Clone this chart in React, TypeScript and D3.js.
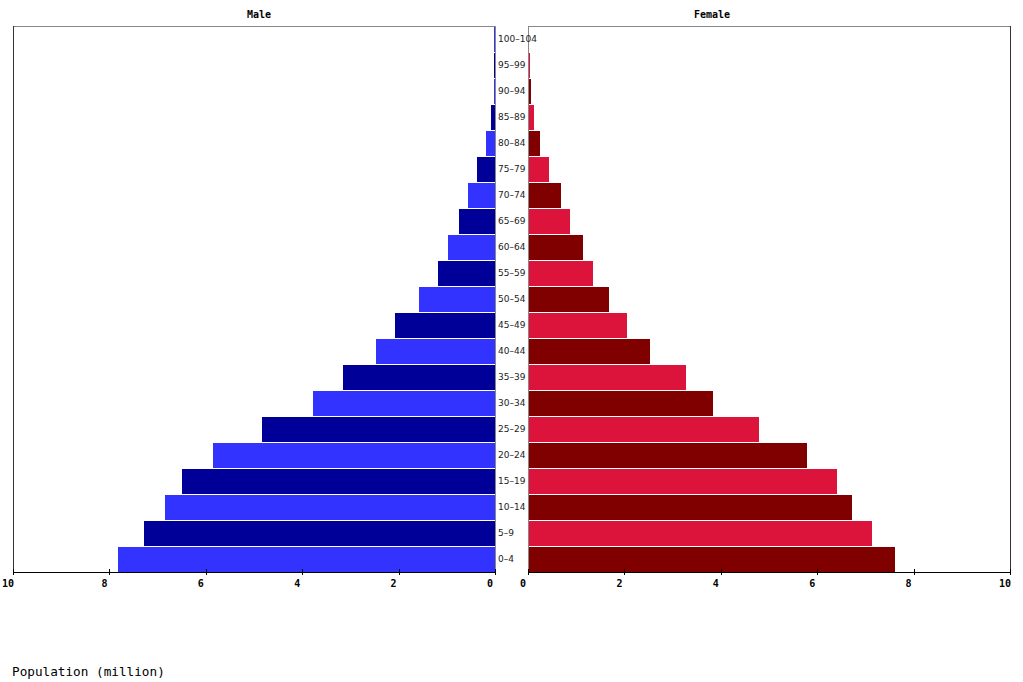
import * as d3 from "d3";

const ageGroups = [
  "0-4", "5-9", "10-14", "15-19", "20-24", "25-29", "30-34", "35-39",
  "40-44", "45-49", "50-54", "55-59", "60-64", "65-69", "70-74", "75-79",
  "80-84", "85-89", "90-94", "95-99", "100-104",
];

// population in millions
const maleValues = [
  7.82, 7.28, 6.85, 6.49, 5.85, 4.83, 3.78, 3.15, 2.47, 2.07, 1.58,
  1.18, 0.98, 0.75, 0.56, 0.37, 0.19, 0.08, 0.03, 0.02, 0.015,
];
const femaleValues = [
  7.59, 7.12, 6.7, 6.39, 5.77, 4.77, 3.82, 3.26, 2.51, 2.03, 1.66,
  1.33, 1.12, 0.85, 0.66, 0.41, 0.23, 0.1, 0.04, 0.02, 0.01,
];
const xTicks = [0, 2, 4, 6, 8, 10];

const COLORS = {
  maleLight: "#3333ff",
  maleDark: "#000099",
  femaleLight: "#dc143c",
  femaleDark: "#800000",
};

const W = 1023;
const H = 682;
const top = 26;
const bottom = 572;
const maleLeft = 13;
const maleRight = 495;
const femaleLeft = 528;
const femaleRight = 1010;

const monoFont = "'DejaVu Sans Mono', 'Liberation Mono', monospace";

export default function App() {
  const xMale = d3.scaleLinear().domain([0, 10]).range([maleRight, maleLeft]);
  const xFemale = d3.scaleLinear().domain([0, 10]).range([femaleLeft, femaleRight]);
  const y = d3
    .scaleBand<string>()
    .domain([...ageGroups].reverse())
    .range([top, bottom])
    .paddingInner(0);
  const bh = y.bandwidth();

  const axis = (
    scale: d3.ScaleLinear<number, number>,
    x0: number,
    x1: number,
    key: string
  ) => (
    <g key={key}>
      <line x1={x0} x2={x1} y1={bottom} y2={bottom} stroke="#000" />
      {xTicks.map((t) => (
        <g key={t}>
          <line
            x1={Math.round(scale(t)) + 0.5}
            x2={Math.round(scale(t)) + 0.5}
            y1={bottom - 3}
            y2={bottom + 3}
            stroke="#000"
          />
          <text
            x={scale(t) - 5}
            y={bottom + 15}
            textAnchor="middle"
            fontFamily={monoFont}
            fontWeight="bold"
            fontSize={10}
            fill="#000"
          >
            {t}
          </text>
        </g>
      ))}
    </g>
  );

  return (
    <svg
      width={W}
      height={H}
      style={{ position: "absolute", left: 0, top: 0, background: "#fff" }}
      shapeRendering="crispEdges"
    >
      {/* panel frames */}
      <rect
        x={maleLeft + 0.5}
        y={top + 0.5}
        width={maleRight - maleLeft}
        height={bottom - top}
        fill="none"
        stroke="#888"
      />
      <rect
        x={femaleLeft + 0.5}
        y={top + 0.5}
        width={femaleRight - femaleLeft}
        height={bottom - top}
        fill="none"
        stroke="#888"
      />
      <line x1={maleLeft + 0.5} x2={maleLeft + 0.5} y1={top} y2={bottom} stroke="#333" />
      <line x1={femaleRight + 0.5} x2={femaleRight + 0.5} y1={top} y2={bottom} stroke="#333" />

      {/* male bars */}
      {ageGroups.map((g, i) => (
        <rect
          key={"m" + g}
          x={xMale(maleValues[i])}
          y={(y(g) ?? 0) + 1}
          width={maleRight - xMale(maleValues[i])}
          height={bh - 1}
          fill={i % 2 === 0 ? COLORS.maleLight : COLORS.maleDark}
        />
      ))}
      {/* female bars */}
      {ageGroups.map((g, i) => (
        <rect
          key={"f" + g}
          x={femaleLeft + 1}
          y={(y(g) ?? 0) + 1}
          width={xFemale(femaleValues[i]) - femaleLeft}
          height={bh - 1}
          fill={i % 2 === 0 ? COLORS.femaleDark : COLORS.femaleLight}
        />
      ))}

      {/* age labels */}
      {ageGroups.map((g) => (
        <text
          key={"l" + g}
          x={498}
          y={(y(g) ?? 0) + bh / 2 + 3}
          fontFamily="'DejaVu Sans', sans-serif"
          fontSize={9}
          fill="#222"
        >
          {g.replace("-", "\u2013")}
        </text>
      ))}

      {axis(xMale, maleLeft, maleRight + 1, "am")}
      {axis(xFemale, femaleLeft, femaleRight + 1, "af")}

      <text
        x={259}
        y={18}
        textAnchor="middle"
        fontFamily={monoFont}
        fontWeight="bold"
        fontSize={10}
      >
        Male
      </text>
      <text
        x={712}
        y={18}
        textAnchor="middle"
        fontFamily={monoFont}
        fontWeight="bold"
        fontSize={10}
      >
        Female
      </text>
      <text x={12} y={676} fontFamily={monoFont} fontSize={12.7} fill="#000">
        Population (million)
      </text>
    </svg>
  );
}
